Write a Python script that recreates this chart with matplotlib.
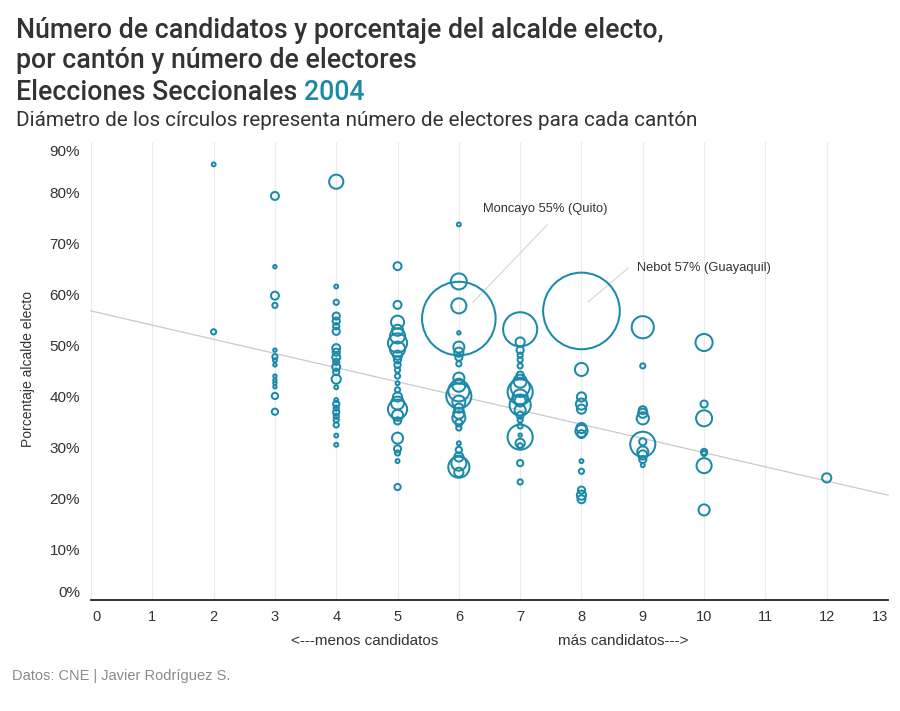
import matplotlib
matplotlib.use("Agg")
import matplotlib.pyplot as plt
import numpy as np
from matplotlib.transforms import ScaledTranslation

# ---------------- data ----------------
# candidates per column, % of elected mayor, electors (thousands)
cand2 = 2
pct2 = [85.6, 52.7]
elec2 = [5, 8]

cand3 = 3
pct3 = [79.4, 65.5, 59.8, 57.9, 49.1, 47.8, 47.1, 46.2, 44.0, 43.2, 42.6, 41.9, 40.1, 37.0]
elec3 = [17, 4, 17, 8, 4, 8, 5, 4, 4, 4, 4, 4, 11, 11]

cand4 = 4
pct4 = [82.2, 61.6, 58.5, 55.8, 54.8, 53.8, 52.8, 49.5, 48.7, 47.7, 46.8, 45.8, 44.8,
        43.4, 41.8, 39.3, 38.5, 37.7, 36.9, 36.1, 35.4, 34.4, 32.3, 30.5]
elec4 = [49, 5, 8, 14, 14, 11, 14, 17, 14, 17, 11, 17, 11, 22, 5, 5, 11, 8, 11, 8, 8, 8, 5, 5]

cand5 = 5
pct5 = [65.6, 58.0, 54.6, 53.0, 51.9, 50.5, 49.3, 48.1, 47.2, 46.2, 45.2, 44.0, 42.6,
        41.3, 39.9, 38.7, 37.5, 36.3, 35.2, 31.8, 29.7, 28.9, 27.3, 22.2]
elec5 = [17, 17, 42, 31, 55, 87, 55, 22, 14, 11, 8, 8, 5, 8, 22, 42, 87, 31, 14, 31, 14, 8, 5, 11]

cand6 = 6
pct6 = [73.8, 62.6, 57.8, 55.3, 52.5, 49.7, 48.7, 47.7, 46.4, 43.6, 42.2, 41.1, 40.1,
        38.9, 37.7, 36.7, 35.8, 34.8, 33.8, 30.8, 29.5, 28.1, 26.9, 26.1, 25.1]
elec6 = [5, 62, 55, 1200, 4, 31, 22, 14, 8, 31, 42, 105, 146, 42, 22, 31, 42, 14, 8, 5,
         11, 22, 55, 105, 22]

cand7 = 7
pct7 = [53.2, 50.7, 49.1, 48.1, 47.2, 46.0, 44.2, 43.0, 41.8, 40.9, 39.9, 39.1, 38.3,
        37.3, 36.3, 35.4, 34.2, 32.4, 32.0, 30.8, 30.3, 26.9, 23.2]
elec7 = [265, 22, 14, 8, 8, 8, 14, 42, 87, 146, 55, 31, 105, 31, 14, 8, 8, 4, 146, 22, 8, 11, 8]

cand8 = 8
pct8 = [56.8, 45.3, 39.9, 38.5, 37.5, 33.8, 33.2, 32.6, 27.3, 25.3, 21.6, 20.6, 19.8]
elec8 = [1300, 42, 22, 31, 22, 26, 37, 17, 5, 8, 14, 22, 17]

cand9 = 9
pct9 = [53.6, 46.0, 37.3, 36.7, 35.7, 31.1, 30.6, 29.1, 28.5, 27.6, 26.5]
elec9 = [115, 8, 17, 22, 37, 14, 146, 31, 22, 14, 5]

cand10 = 10
pct10 = [50.6, 38.5, 35.7, 29.1, 28.8, 26.4, 17.7]
elec10 = [70, 14, 62, 11, 8, 55, 31]

cand12 = 12
pct12 = [24.0]
elec12 = [22]

# trend line: value at 0 and at 13 candidates
trend_x = [0, 13]
trend_y = [56.8, 20.6]

x_ticks = list(range(0, 14))
y_ticks = [0, 10, 20, 30, 40, 50, 60, 70, 80, 90]

annotations = [
    ("Moncayo 55% (Quito)", 6, 55.3),
    ("Nebot 57% (Guayaquil)", 8, 56.8),
]

# --------------- assemble ---------------
groups = [(cand2, pct2, elec2), (cand3, pct3, elec3), (cand4, pct4, elec4),
          (cand5, pct5, elec5), (cand6, pct6, elec6), (cand7, pct7, elec7),
          (cand8, pct8, elec8), (cand9, pct9, elec9), (cand10, pct10, elec10),
          (cand12, pct12, elec12)]
xs, ys, es = [], [], []
for c, p, e in groups:
    xs += [c] * len(p)
    ys += p
    es += e
xs = np.array(xs, float)
ys = np.array(ys, float) / 100
es = np.array(es, float)

TEAL = "#1b8aa9"
DARK = "#333333"
SANS = "Liberation Sans"

fig = plt.figure(figsize=(9, 7.11), dpi=100)
W, H = 900, 711
ax = fig.add_axes([91 / W, (H - 600) / H, (888 - 91) / W, (600 - 142) / H])
ax.set_xlim(0, 13)
ax.set_ylim(0, 0.9)

# vertical gridlines
for t in x_ticks:
    ax.axvline(t, color="#ebebeb", lw=0.8, zorder=0)

# trend line
ax.plot(trend_x, np.array(trend_y) / 100, color="#c9c9c9", lw=0.9, zorder=1,
        clip_on=False)

# bubble sizes: diameter (px) ~ sqrt(electors)
diam_px = 2.15 * np.sqrt(es) - 0.9
diam_px = np.maximum(diam_px, 3.0)
sizes = (diam_px * 72 / fig.dpi) ** 2
order = np.argsort(-es)
ax.scatter(xs[order], ys[order], s=sizes[order], facecolors="none",
           edgecolors=TEAL, linewidths=1.45, zorder=3)

# annotations
ax.plot([6.23, 7.44], [0.585, 0.737], color="#d5d5d5", lw=0.8, zorder=2)
ax.text(6.40, 0.768, annotations[0][0], fontsize=9.3, color=DARK,
        family=SANS, va="center", ha="left")
ax.plot([8.11, 8.76], [0.586, 0.652], color="#d5d5d5", lw=0.8, zorder=2)
ax.text(8.91, 0.653, annotations[1][0], fontsize=9.3, color=DARK,
        family=SANS, va="center", ha="left")

# axes styling
for s in ["top", "right", "left"]:
    ax.spines[s].set_visible(False)
ax.spines["bottom"].set_color("#222222")
ax.spines["bottom"].set_linewidth(1.3)
ax.set_xticks(x_ticks)
ax.set_xticklabels([str(t) for t in x_ticks], fontsize=10.5, color=DARK, family=SANS)
ax.tick_params(axis="x", length=0, pad=7)
xlabs = ax.get_xticklabels()
xlabs[0].set_ha("left")
xlabs[0].set_transform(xlabs[0].get_transform() + ScaledTranslation(1.5 / 100, 0, fig.dpi_scale_trans))
xlabs[-1].set_ha("right")
ax.set_yticks([t / 100 for t in y_ticks])
ax.set_yticklabels([f"{t}%" for t in y_ticks], fontsize=11, color=DARK, family=SANS)
ax.tick_params(axis="y", length=0, pad=8)
ylabs = ax.get_yticklabels()
ylabs[0].set_va("bottom")
ylabs[-1].set_va("top")
ylabs[-1].set_transform(ylabs[-1].get_transform() + ScaledTranslation(0, -3 / 100, fig.dpi_scale_trans))

fig.text(28 / W, 1 - 369 / H, "Porcentaje alcalde electo", rotation=90,
         fontsize=10, color=DARK, family=SANS, ha="center", va="center")

fig.text(365 / W, 1 - 641 / H, "<---menos candidatos", fontsize=11, color=DARK,
         family=SANS, ha="center", va="center")
fig.text(623 / W, 1 - 641 / H, "más candidatos--->", fontsize=11, color=DARK,
         family=SANS, ha="center", va="center")

# titles
TS = 19.3
fig.text(16 / W, 1 - 30 / H, "Número de candidatos y porcentaje del alcalde electo,",
         fontsize=TS, color=DARK, family="Roboto", fontweight="medium", va="center")
fig.text(16 / W, 1 - 61 / H, "por cantón y número de electores",
         fontsize=TS, color=DARK, family="Roboto", fontweight="medium", va="center")
t1 = fig.text(16 / W, 1 - 92 / H, "Elecciones Seccionales ",
              fontsize=TS, color=DARK, family="Roboto", fontweight="medium", va="center")
fig.canvas.draw()
bb = t1.get_window_extent()
fig.text(bb.x1 / W, 1 - 92 / H, "2004", fontsize=TS, color=TEAL, family="Roboto",
         fontweight="medium", va="center")
fig.text(16 / W, 1 - 120 / H,
         "Diámetro de los círculos representa número de electores para cada cantón",
         fontsize=14.9, color=DARK, family="Roboto", va="center")

fig.text(12 / W, 1 - 676 / H, "Datos: CNE | Javier Rodríguez S.", fontsize=10.5,
         color="#8a8a8a", family=SANS, va="center")

fig.savefig("out.png", dpi=100, facecolor="white")
